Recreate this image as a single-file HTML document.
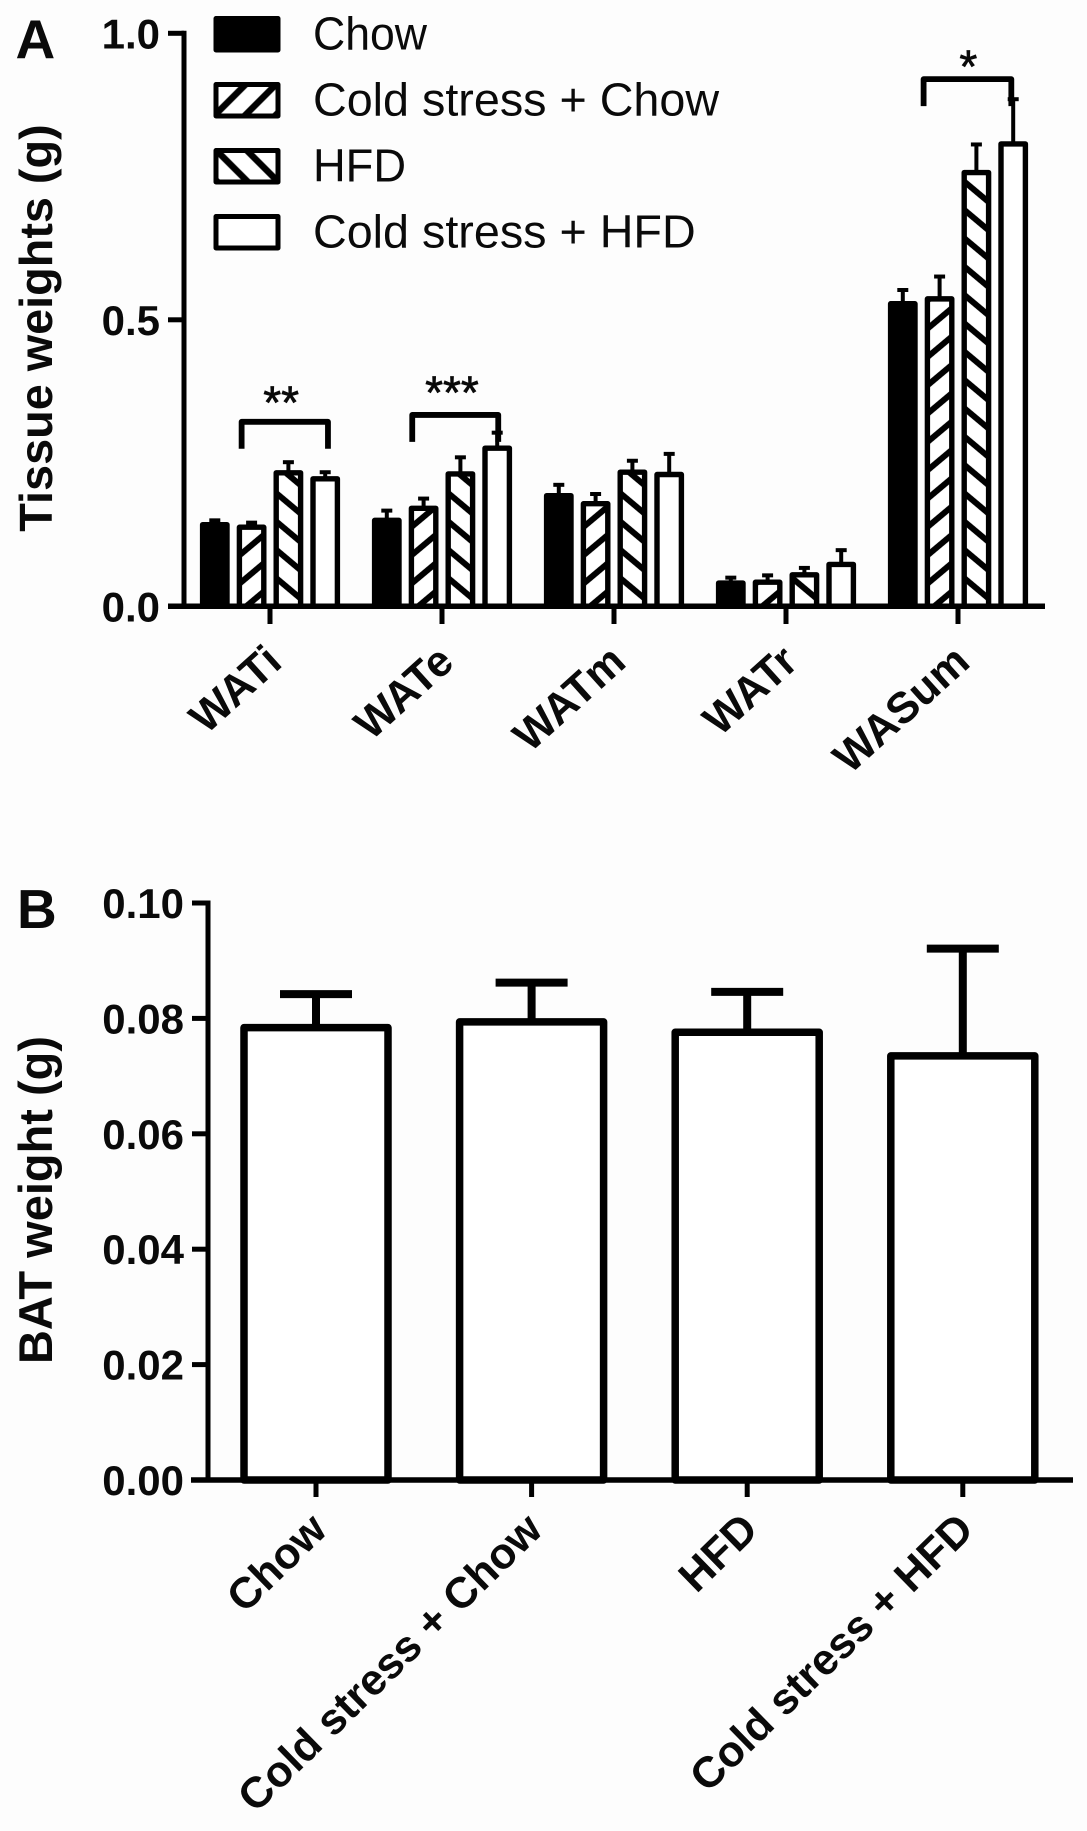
<!DOCTYPE html>
<html lang="en">
<head>
<meta charset="utf-8">
<title>Tissue weights and BAT weight</title>
<style>
  html, body { margin: 0; padding: 0; background: #fdfdfd; }
  svg { display: block; }
  text { font-family: "Liberation Sans", sans-serif; fill: #0a0a0a; }
  .b { font-weight: bold; }
</style>
</head>
<body>
<svg id="figure" xmlns="http://www.w3.org/2000/svg" width="1087" height="1831" viewBox="0 0 1087 1831">
  <defs id="defs">
    <pattern id="legend-hatch-up" patternUnits="userSpaceOnUse" width="21.5" height="21.5" patternTransform="translate(230,100) rotate(-45)">
      <rect width="21.5" height="21.5" fill="#fff"></rect>
      <rect x="0" y="0" width="21.5" height="3.25" fill="#000"></rect>
      <rect x="0" y="18.25" width="21.5" height="3.25" fill="#000"></rect>
    </pattern>
    <pattern id="legend-hatch-down" patternUnits="userSpaceOnUse" width="21.5" height="21.5" patternTransform="translate(232,166) rotate(45)">
      <rect width="21.5" height="21.5" fill="#fff"></rect>
      <rect x="0" y="0" width="21.5" height="3.25" fill="#000"></rect>
      <rect x="0" y="18.25" width="21.5" height="3.25" fill="#000"></rect>
    </pattern>
  </defs>
  <rect width="1087" height="1831" fill="#fdfdfd"></rect>

  <text class="b" x="15.5" y="58" font-size="55">A</text>
  <text class="b" x="17" y="928" font-size="55">B</text>

  <text class="b" font-size="46.8" text-anchor="middle" transform="translate(52,328) rotate(-90)">Tissue weights (g)</text>
  <text class="b" font-size="47" text-anchor="middle" transform="translate(52,1200) rotate(-90)">BAT weight (g)</text>

  <g id="chart-a"></g>
  <g id="chart-b"></g>

  <g stroke-linejoin="round">
    <g>
      <rect x="216" y="18.5" width="62" height="31.5" fill="#000" stroke="#000" stroke-width="5"></rect>
      <text x="313" y="49.5" font-size="46.7" textLength="114" lengthAdjust="spacingAndGlyphs">Chow</text>
    </g>
    <g>
      <rect x="216" y="84.5" width="62" height="31.5" fill="url(#legend-hatch-up)" stroke="#000" stroke-width="5"></rect>
      <text x="313" y="115.5" font-size="46.7">Cold stress + Chow</text>
    </g>
    <g>
      <rect x="216" y="150.5" width="62" height="31.5" fill="url(#legend-hatch-down)" stroke="#000" stroke-width="5"></rect>
      <text x="313" y="181.5" font-size="46.7" textLength="93" lengthAdjust="spacingAndGlyphs">HFD</text>
    </g>
    <g>
      <rect x="216" y="216.5" width="62" height="31.5" fill="#fff" stroke="#000" stroke-width="5"></rect>
      <text x="313" y="247.5" font-size="46.7">Cold stress + HFD</text>
    </g>
  </g>
</svg>

<script>
// Panel A data
const tissueCategories = ['WATi', 'WATe', 'WATm', 'WATr', 'WASum'];
const tissueTicks = [0, 0.5, 1.0];
const tissueTickLabels = ['0.0', '0.5', '1.0'];
const chowMeans = [0.1425, 0.150, 0.193, 0.0405, 0.528];
const chowErrors = [0.0075, 0.017, 0.019, 0.0095, 0.024];
const coldChowMeans = [0.138, 0.171, 0.179, 0.042, 0.5365];
const coldChowErrors = [0.008, 0.017, 0.017, 0.012, 0.039];
const hfdMeans = [0.233, 0.231, 0.234, 0.055, 0.757];
const hfdErrors = [0.0185, 0.029, 0.020, 0.012, 0.049];
const coldHfdMeans = [0.2225, 0.276, 0.230, 0.073, 0.807];
const coldHfdErrors = [0.0115, 0.027, 0.036, 0.025, 0.078];

// Significance brackets (category units on x, tissue weight on y)
const bracketFrom = [-0.165, 0.827, 3.80];
const bracketTo = [0.337, 1.327, 4.31];
const bracketLevels = [0.322, 0.334, 0.92];
const bracketStars = ['**', '***', '*'];
const starCenters = [0.065, 1.058, 4.06];
const starLevels = [0.328, 0.345, 0.914];

// Panel B data
const batCategories = ['Chow', 'Cold stress + Chow', 'HFD', 'Cold stress + HFD'];
const batTicks = [0, 0.02, 0.04, 0.06, 0.08, 0.10];
const batTickLabels = ['0.00', '0.02', '0.04', '0.06', '0.08', '0.10'];
const batMeans = [0.0784, 0.0794, 0.0776, 0.0735];
const batErrors = [0.0058, 0.0068, 0.0070, 0.0186];

const NS = 'http://www.w3.org/2000/svg';
function mk(parent, tag, attrs, txt) {
  const el = document.createElementNS(NS, tag);
  for (const k in attrs) el.setAttribute(k, attrs[k]);
  if (txt !== undefined) el.textContent = txt;
  parent.appendChild(el);
  return el;
}

const defs = document.getElementById('defs');
// Hatch anchored to each bar's own base, like the original graphing software
function hatchFill(id, cx, baseY, angle, shift) {
  const tile = 21.7;
  const half = 3;
  const p = mk(defs, 'pattern', {id: id, patternUnits: 'userSpaceOnUse', width: tile, height: tile, patternTransform: 'translate(' + cx + ',' + (baseY + shift) + ') rotate(' + angle + ')'});
  mk(p, 'rect', {width: tile, height: tile, fill: '#fff'});
  mk(p, 'rect', {x: 0, y: 0, width: tile, height: half, fill: '#000'});
  mk(p, 'rect', {x: 0, y: tile - half, width: tile, height: half, fill: '#000'});
  return 'url(#' + id + ')';
}

// ---------- Panel A ----------
const gA = document.getElementById('chart-a');
const yA = v => 606.3 - 573 * v;
const xA = u => 270 + 172 * u;
const seriesMeans = [chowMeans, coldChowMeans, hfdMeans, coldHfdMeans];
const seriesErrors = [chowErrors, coldChowErrors, hfdErrors, coldHfdErrors];
const seriesNames = ['chow', 'cold-stress-chow', 'hfd', 'cold-stress-hfd'];

seriesMeans.forEach((means, s) => {
  means.forEach((m, i) => {
    const cx = xA(i) - 55.2 + 36.8 * s;
    let fill = s === 0 ? '#000' : '#fff';
    if (s === 1) fill = hatchFill('hatch-up-' + i, cx, yA(0), -40, -4.5);
    if (s === 2) fill = hatchFill('hatch-down-' + i, cx, yA(0), 40, -18);
    const stem = mk(gA, 'line', {x1: cx, x2: cx, y1: yA(m), y2: yA(m + seriesErrors[s][i]), stroke: '#000', 'stroke-width': 4});
    
    
    const cap = mk(gA, 'line', {x1: cx - 5.5, x2: cx + 5.5, y1: yA(m + seriesErrors[s][i]), y2: yA(m + seriesErrors[s][i]), stroke: '#000', 'stroke-width': 4});
    
    
    const bar = mk(gA, 'rect', {x: cx - 12.2, y: yA(m), width: 24.4, height: yA(0) - yA(m), fill: fill, stroke: '#000', 'stroke-width': 5.4, 'stroke-linejoin': 'round'});
    
    
  });
});

const axisYA = mk(gA, 'line', {x1: 184, x2: 184, y1: yA(1) - 2.5, y2: yA(0), stroke: '#000', 'stroke-width': 5});


const axisXA = mk(gA, 'line', {x1: 168, x2: 1045, y1: yA(0), y2: yA(0), stroke: '#000', 'stroke-width': 5.5});



tissueTicks.forEach((t, i) => {
  const tick = mk(gA, 'line', {x1: 168, x2: 184, y1: yA(t), y2: yA(t), stroke: '#000', 'stroke-width': 5});
  
  
  const lab = mk(gA, 'text', {x: 160, y: yA(t) + 15, 'text-anchor': 'end', 'font-size': 42, 'class': 'b'}, tissueTickLabels[i]);
  
  
});

tissueCategories.forEach((c, i) => {
  const tick = mk(gA, 'line', {x1: xA(i), x2: xA(i), y1: yA(0), y2: 624, stroke: '#000', 'stroke-width': 5});
  
  
  const lab = mk(gA, 'text', {'text-anchor': 'end', 'font-size': 43.5, 'class': 'b', transform: 'translate(' + (xA(i) + 14) + ',665) rotate(-42)'}, c);
  
  
});

bracketStars.forEach((stars, i) => {
  const l = xA(bracketFrom[i]), r = xA(bracketTo[i]), y = yA(bracketLevels[i]);
  const br = mk(gA, 'path', {d: 'M' + l + ' ' + (y + 27) + 'V' + y + 'H' + r + 'V' + (y + 27), fill: 'none', stroke: '#000', 'stroke-width': 5.8, 'stroke-linejoin': 'round'});
  
  
  const st = mk(gA, 'text', {x: xA(starCenters[i]), y: yA(starLevels[i]), 'text-anchor': 'middle', 'font-size': 46, stroke: '#0a0a0a', 'stroke-width': 0.7}, stars);
  
  
});

// ---------- Panel B ----------
const gB = document.getElementById('chart-b');
const yB = v => 1480 - 5770 * v;
const xB = i => 316 + 215.6 * i;

batMeans.forEach((m, i) => {
  const cx = xB(i);
  const stem = mk(gB, 'line', {x1: cx, x2: cx, y1: yB(m), y2: yB(m + batErrors[i]), stroke: '#000', 'stroke-width': 8});
  
  
  const cap = mk(gB, 'line', {x1: cx - 36, x2: cx + 36, y1: yB(m + batErrors[i]), y2: yB(m + batErrors[i]), stroke: '#000', 'stroke-width': 8});
  
  
  const bar = mk(gB, 'rect', {x: cx - 72, y: yB(m), width: 144, height: yB(0) - yB(m), fill: '#fff', stroke: '#000', 'stroke-width': 7.5, 'stroke-linejoin': 'round'});
  
  
});

const axisYB = mk(gB, 'line', {x1: 208, x2: 208, y1: yB(0.1) - 2.5, y2: yB(0), stroke: '#000', 'stroke-width': 5});


const axisXB = mk(gB, 'line', {x1: 191, x2: 1073, y1: yB(0), y2: yB(0), stroke: '#000', 'stroke-width': 5.5});



batTicks.forEach((t, i) => {
  const tick = mk(gB, 'line', {x1: 192, x2: 208, y1: yB(t), y2: yB(t), stroke: '#000', 'stroke-width': 5});
  
  
  const lab = mk(gB, 'text', {x: 184, y: yB(t) + 15, 'text-anchor': 'end', 'font-size': 42, 'class': 'b'}, batTickLabels[i]);
  
  
});

batCategories.forEach((c, i) => {
  const tick = mk(gB, 'line', {x1: xB(i), x2: xB(i), y1: yB(0), y2: 1497, stroke: '#000', 'stroke-width': 5});
  
  
  const lab = mk(gB, 'text', {'text-anchor': 'end', 'font-size': 43.4, 'class': 'b', transform: 'translate(' + (xB(i) + 13) + ',1532) rotate(-44.3)'}, c);
  
  
});
</script>
</body>
</html>
